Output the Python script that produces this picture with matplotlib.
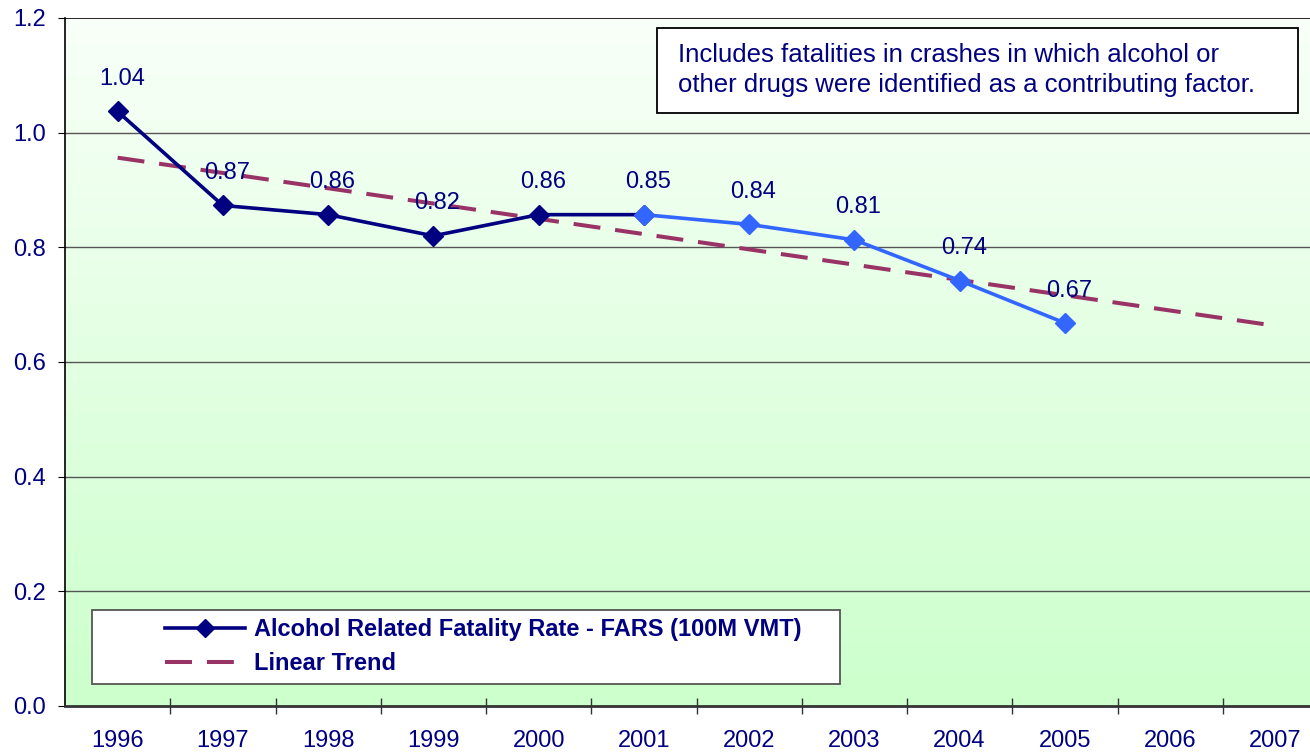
import numpy as np
import matplotlib.pyplot as plt
from matplotlib.lines import Line2D
from matplotlib.patches import Rectangle

plt.rcParams['font.family'] = ['Liberation Sans', 'DejaVu Sans']

years = ['1996', '1997', '1998', '1999', '2000', '2001',
         '2002', '2003', '2004', '2005', '2006', '2007']
rate = [1.037, 0.873, 0.857, 0.820, 0.857, 0.857, 0.840, 0.813, 0.742, 0.668]
rate_labels = ['1.04', '0.87', '0.86', '0.82', '0.86', '0.85',
               '0.84', '0.81', '0.74', '0.67']
split = 5  # 2001: dark series ends, light series starts

navy = '#000080'
light = '#3366FF'
trend_col = '#993366'
W, H = 1310, 753

fig = plt.figure(figsize=(W / 100, H / 100), dpi=100)
# plot area runs a bit past the right edge of the picture
ax = fig.add_axes([65 / W, 47 / H, 1263 / W, 688 / H])

# green gradient background, near white on top
grad = np.linspace(0, 1, 256).reshape(-1, 1)
top = np.array([0.975, 1.0, 0.975])
bot = np.array([0.80, 1.0, 0.80])
img = top + (bot - top) * grad[:, :, None]
ax.imshow(img, extent=[-0.5, 11.5, 0.0, 1.2], aspect='auto', zorder=0)

x = np.arange(len(rate))
ax.plot(x[:split + 1], rate[:split + 1], color=navy, lw=2.6, marker='D',
        ms=10.5, zorder=4)
ax.plot(x[split:], rate[split:], color=light, lw=2.6, marker='D',
        ms=10.5, zorder=4)

# linear trend, extended to 2007
k, b = np.polyfit(x, rate, 1)
xt = np.arange(len(years))
ax.plot(xt, k * xt + b, color=trend_col, lw=2.9, dashes=(6.7, 3.7), zorder=3)

for xi, yi, lab in zip(x, rate, rate_labels):
    ax.annotate(lab, (xi, yi), xytext=(3, 19), textcoords='offset points',
                ha='center', va='baseline', color=navy, fontsize=17, zorder=5)

ax.set_xlim(-0.5, 11.5)
ax.set_ylim(0, 1.2)
yt = np.arange(0, 1.21, 0.2)
ax.set_yticks(yt)
ax.set_yticklabels([f'{v:.1f}' for v in yt])
ax.set_xticks(np.arange(0.5, 11.5, 1.0))
ax.set_xticklabels([])
ax.set_xticks(np.arange(len(years)), minor=True)
ax.set_xticklabels(years, minor=True)
ax.tick_params(axis='x', which='minor', length=0, pad=17,
               labelsize=17, labelcolor=navy)
ax.tick_params(axis='x', which='major', direction='inout', length=11,
               width=1, color='#333333')
ax.tick_params(axis='y', length=5, labelsize=17, labelcolor=navy, pad=9)

for yv in yt[1:-1]:
    ax.axhline(yv, color='#555555', lw=1, zorder=1)
ax.axhline(1.2, color='black', lw=1.2, zorder=1)

ax.spines['top'].set_visible(False)
ax.spines['right'].set_visible(False)
ax.spines['left'].set_linewidth(1.2)
ax.spines['bottom'].set_linewidth(2)
ax.spines['bottom'].set_color('#333333')

# note box
fig.patches.append(Rectangle((657 / W, 1 - 113 / H), 641 / W, 85 / H,
                             transform=fig.transFigure, fc='white',
                             ec='black', lw=1.3, zorder=6))
fig.text(678 / W, 1 - 70 / H,
         'Includes fatalities in crashes in which alcohol or\n'
         'other drugs were identified as a contributing factor.',
         ha='left', va='center', color=navy, fontsize=18.5,
         linespacing=1.32, zorder=7)

# legend frame (Excel style, wide empty margin on the left)
fig.patches.append(Rectangle((92 / W, 1 - 684 / H), 748 / W, 74 / H,
                             transform=fig.transFigure, fc='white',
                             ec='#555555', lw=1.3, zorder=6))
handles = [
    Line2D([], [], color=navy, lw=2.6, marker='D', ms=9),
    Line2D([], [], color=trend_col, lw=2.9, dashes=(6.7, 3.7)),
]
leg = fig.legend(handles, ['Alcohol Related Fatality Rate - FARS (100M VMT)',
                           'Linear Trend'],
                 loc='upper left', bbox_to_anchor=(165 / W, 1 - 618 / H),
                 frameon=False, borderpad=0, borderaxespad=0,
                 handlelength=3.4, handletextpad=0.35, labelspacing=0.47,
                 prop={'weight': 'bold', 'size': 17})
for t in leg.get_texts():
    t.set_color(navy)
leg.set_zorder(8)

fig.savefig('out.png', dpi=100)
